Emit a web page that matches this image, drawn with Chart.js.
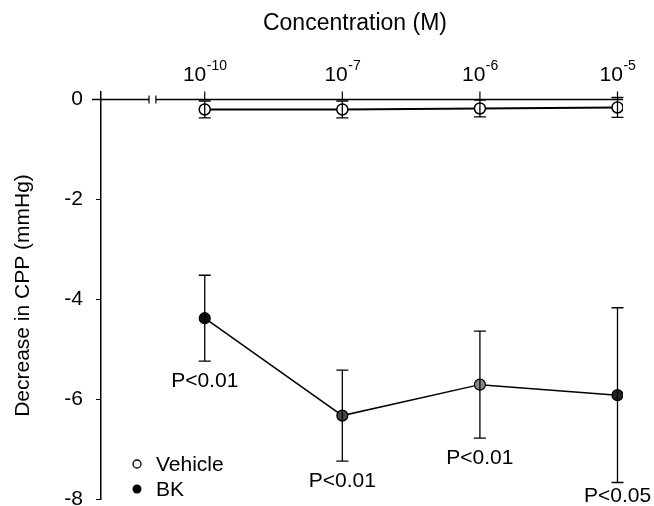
<!DOCTYPE html>
<html><head><meta charset="utf-8">
<script src="https://cdn.jsdelivr.net/npm/chart.js@4.4.0/dist/chart.umd.min.js"></script>
<style>html,body{margin:0;padding:0;background:#fff}#wrap{width:654px;height:506px}</style>
</head><body><div id="wrap"><canvas id="c" width="654" height="506"></canvas></div>
<script>
// ---- data ----
const categories = [1, 2, 3, 4];            // concentration index (10^-10, 10^-7, 10^-6, 10^-5)
const tickBase = "10";
const tickExponents = ["-10", "-7", "-6", "-5"];
const vehicleMean = [-0.2, -0.2, -0.18, -0.16];
const vehicleErr = [0.17, 0.17, 0.17, 0.2];
const bkMean = [-4.38, -6.33, -5.71, -5.92];
const bkErr = [0.86, 0.91, 1.07, 1.75];
const pLabels = ["P<0.01", "P<0.01", "P<0.01", "P<0.05"];
const yTicks = [0, -2, -4, -6, -8];
const seriesNames = ["Vehicle", "BK"];

const FONT = "'Liberation Sans', Arial, Helvetica, sans-serif";
Chart.defaults.font.family = FONT;
Chart.defaults.color = '#000';

const custom = {
  id: 'custom',
  beforeDatasetsDraw(chart) {
    const ctx = chart.ctx, xs = chart.scales.x, ys = chart.scales.y;
    const y0 = ys.getPixelForValue(0);
    ctx.save();
    ctx.strokeStyle = '#000';
    ctx.lineWidth = 1.5;
    const xa = xs.getPixelForValue(0.18), xb1 = xs.getPixelForValue(0.595), xb2 = xs.getPixelForValue(0.645);
    const xe = chart.chartArea.right;
    ctx.beginPath();
    ctx.moveTo(xa, y0); ctx.lineTo(xb1, y0);
    ctx.moveTo(xb2, y0); ctx.lineTo(xe, y0);
    ctx.stroke();
    ctx.lineWidth = 1.2;
    ctx.beginPath();
    ctx.moveTo(xb1, y0 - 4); ctx.lineTo(xb1, y0 + 4);
    ctx.moveTo(xb2, y0 - 4); ctx.lineTo(xb2, y0 + 4);
    ctx.stroke();
    categories.forEach(c => {
      const x = xs.getPixelForValue(c);
      ctx.beginPath(); ctx.moveTo(x, y0 - 8); ctx.lineTo(x, y0); ctx.stroke();
    });
    ctx.restore();
  },
  afterDatasetsDraw(chart) {
    const ctx = chart.ctx, xs = chart.scales.x, ys = chart.scales.y;
    ctx.save();
    ctx.strokeStyle = '#000';
    ctx.lineWidth = 1.3;
    const cap = 6;
    const bars = (means, errs) => means.forEach((m, i) => {
      const x = xs.getPixelForValue(categories[i]);
      const yt = ys.getPixelForValue(m + errs[i]), yb = ys.getPixelForValue(m - errs[i]);
      ctx.beginPath();
      ctx.moveTo(x, yt); ctx.lineTo(x, yb);
      ctx.moveTo(x - cap, yt); ctx.lineTo(x + cap, yt);
      ctx.moveTo(x - cap, yb); ctx.lineTo(x + cap, yb);
      ctx.stroke();
    });
    bars(vehicleMean, vehicleErr);
    bars(bkMean, bkErr);
    ctx.restore();
  },
  afterDraw(chart) {
    const ctx = chart.ctx, xs = chart.scales.x, ys = chart.scales.y;
    ctx.save();
    ctx.fillStyle = '#000';
    ctx.font = '23px ' + FONT;
    ctx.textAlign = 'center'; ctx.textBaseline = 'alphabetic';
    ctx.fillText('Concentration (M)', 355, 30);
    categories.forEach((c, i) => {
      const x = xs.getPixelForValue(c);
      ctx.font = '21px ' + FONT;
      const w1 = ctx.measureText(tickBase).width;
      ctx.font = '14px ' + FONT;
      const w2 = ctx.measureText(tickExponents[i]).width;
      const sx = x - (w1 + w2) / 2;
      ctx.textAlign = 'left';
      ctx.font = '21px ' + FONT;
      ctx.fillText(tickBase, sx, 81);
      ctx.font = '14px ' + FONT;
      ctx.fillText(tickExponents[i], sx + w1 + 0.5, 70);
    });
    ctx.font = '21px ' + FONT;
    ctx.textAlign = 'center'; ctx.textBaseline = 'middle';
    bkMean.forEach((m, i) => {
      const x = xs.getPixelForValue(categories[i]);
      const yb = ys.getPixelForValue(m - bkErr[i]);
      ctx.fillText(pLabels[i], x, Math.min(yb + 20, 496));
    });
    ctx.textAlign = 'left';
    ctx.lineWidth = 1.3;
    ctx.beginPath(); ctx.arc(137, 464, 4, 0, Math.PI * 2);
    ctx.fillStyle = '#fff'; ctx.fill(); ctx.strokeStyle = '#000'; ctx.stroke();
    ctx.fillStyle = '#000';
    ctx.fillText(seriesNames[0], 156, 465);
    ctx.beginPath(); ctx.arc(137, 489, 4.5, 0, Math.PI * 2); ctx.fill();
    ctx.fillText(seriesNames[1], 156, 490);
    ctx.restore();
  }
};

new Chart(document.getElementById('c'), {
  type: 'line',
  data: {
    datasets: [
      {
        label: seriesNames[0],
        data: categories.map((c, i) => ({ x: c, y: vehicleMean[i] })),
        borderColor: '#000', borderWidth: 2,
        pointRadius: 5.5, pointBackgroundColor: '#fff', pointBorderColor: '#000', pointBorderWidth: 1.5,
        tension: 0
      },
      {
        label: seriesNames[1],
        data: categories.map((c, i) => ({ x: c, y: bkMean[i] })),
        borderColor: '#000', borderWidth: 1.5,
        pointRadius: 5.5,
        pointBackgroundColor: ['#111', '#444', '#888', '#222'],
        pointBorderColor: '#000', pointBorderWidth: 1.2,
        tension: 0
      }
    ]
  },
  options: {
    responsive: false, animation: false, devicePixelRatio: 1,
    layout: { padding: { top: 92, right: 31, bottom: 7, left: 0 } },
    plugins: { legend: { display: false }, tooltip: { enabled: false } },
    scales: {
      x: { type: 'linear', min: 0.246, max: 4.04, display: false },
      y: {
        min: -8, max: 0.15,
        afterBuildTicks: s => { s.ticks = yTicks.map(v => ({ value: v })); },
        afterFit: s => { s.width = 101; s.paddingTop = 0; s.paddingBottom = 0; },
        border: { display: true, color: '#000', width: 1.5 },
        grid: { display: true, drawOnChartArea: false, drawTicks: true, tickLength: 5, color: '#000', lineWidth: 1 },
        ticks: { color: '#000', font: { size: 21 }, padding: 13 },
        title: { display: true, text: 'Decrease in CPP (mmHg)', color: '#000', font: { size: 21 }, padding: { top: 11, bottom: 0 } }
      }
    }
  },
  plugins: [custom]
});
</script>
</body></html>
